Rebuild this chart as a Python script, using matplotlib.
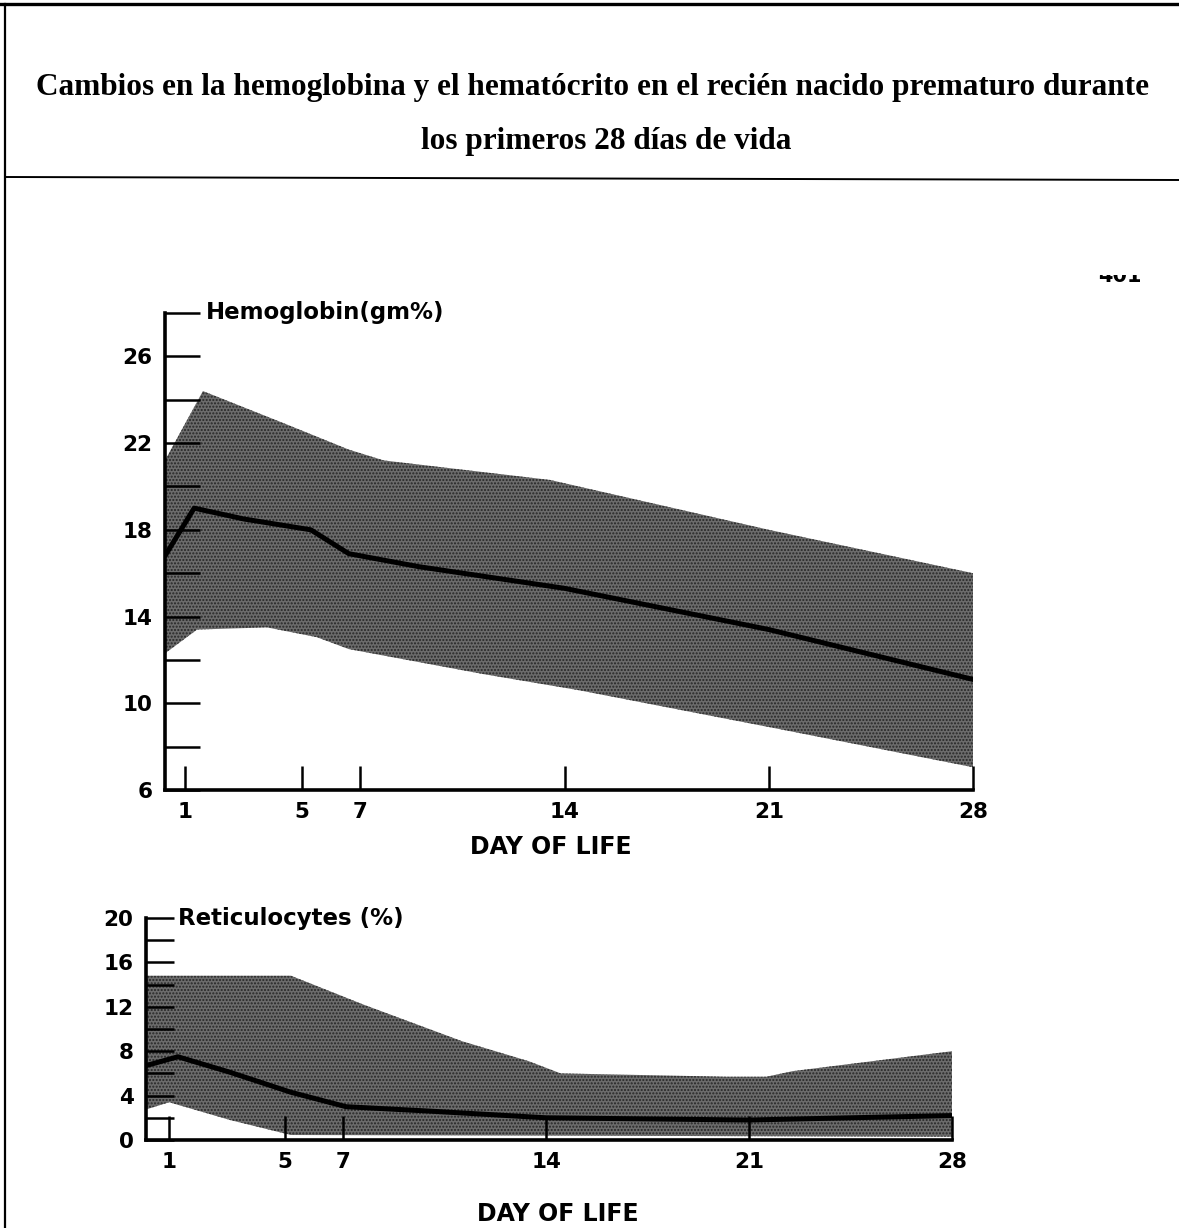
import numpy as np
import matplotlib.pyplot as plt
from matplotlib.lines import Line2D
from matplotlib.transforms import Bbox

W, H = 1179, 1228

# hemoglobin (gm%) -- mean curve and shaded range
hb_days = [0.3, 1.3, 3.0, 5.3, 6.6, 9.0, 14.0, 21.0, 28.0]
hb_mean = [16.8, 19.0, 18.5, 18.0, 16.9, 16.3, 15.3, 13.4, 11.1]
hb_up_days = [0.3, 1.6, 4.4, 6.6, 7.8, 13.5, 21.0, 28.0]
hb_upper = [21.2, 24.4, 22.9, 21.7, 21.2, 20.3, 18.0, 16.0]
hb_lo_days = [0.3, 1.4, 3.8, 5.5, 6.6, 11.2, 14.5, 21.4, 28.0]
hb_lower = [12.3, 13.4, 13.5, 13.05, 12.5, 11.35, 10.6, 8.8, 7.05]

# reticulocytes (%)
ret_days = [0.2, 1.3, 3.1, 5.2, 7.1, 10.0, 14.0, 21.0, 28.0]
ret_mean = [6.7, 7.5, 6.1, 4.3, 3.0, 2.6, 2.0, 1.8, 2.2]
ret_up_days = [0.2, 5.2, 7.7, 11.1, 13.4, 14.5, 20.2, 21.6, 22.5, 28.0]
ret_upper = [14.8, 14.8, 12.2, 8.9, 7.1, 6.0, 5.7, 5.7, 6.2, 8.0]
ret_lo_days = [0.2, 1.0, 3.1, 5.2, 28.0]
ret_lower = [2.75, 3.4, 1.8, 0.45, 0.3]

day_ticks = [1, 5, 7, 14, 21, 28]

SANS = 'DejaVu Sans'

fig = plt.figure(figsize=(W / 100, H / 100), dpi=100)
fig.patch.set_facecolor('white')


def px_axes(left, top, right, bottom):
    return fig.add_axes([left / W, 1 - bottom / H, (right - left) / W, (bottom - top) / H])


def panel(ax, days, mean, up_d, up, lo_d, lo, xlim, ylim, major, minor, name, name_x,
          xlab_xy, ytick_len):
    px = list(up_d) + list(lo_d)[::-1]
    py = list(up) + list(lo)[::-1]
    ax.fill(px, py, facecolor='#6c6c6c', edgecolor='#262626', hatch='.....', linewidth=0, zorder=1)
    ax.plot(days, mean, color='black', lw=3.6, solid_joinstyle='round', solid_capstyle='round', zorder=2)
    ax.set_xlim(*xlim)
    ax.set_ylim(*ylim)
    for s in ['top', 'right']:
        ax.spines[s].set_visible(False)
    for s in ['left', 'bottom']:
        ax.spines[s].set_linewidth(2.6)
    ax.set_yticks(major)
    ax.set_yticks(minor, minor=True)
    ax.set_xticks(day_ticks)
    ax.tick_params(axis='y', which='both', direction='in', length=ytick_len, width=1.8, pad=9,
                   labelsize=15.5)
    ax.tick_params(axis='x', which='both', direction='in', length=17, width=1.8, pad=9,
                   labelsize=15.5)
    for lab in ax.get_xticklabels() + ax.get_yticklabels():
        lab.set_fontfamily(SANS)
        lab.set_fontweight('bold')
    ax.text(name_x, ylim[1], name, ha='left', va='center', fontsize=16.5, fontweight='bold',
            family=SANS, clip_on=False)
    ax.set_xlabel('DAY OF LIFE', fontsize=17, fontweight='bold', family=SANS)
    ax.xaxis.set_label_coords(*xlab_xy)
    ax.patch.set_alpha(0)


ax1 = px_axes(165, 313, 973, 790)
panel(ax1, hb_days, hb_mean, hb_up_days, hb_upper, hb_lo_days, hb_lower,
      (0.3, 28), (6, 28), [6, 10, 14, 18, 22, 26], [8, 12, 16, 20, 24, 28],
      'Hemoglobin(gm%)', 1.7, ((551 - 165) / (973 - 165), -0.095), 25)

ax2 = px_axes(146, 918, 952, 1140)
panel(ax2, ret_days, ret_mean, ret_up_days, ret_upper, ret_lo_days, ret_lower,
      (0.2, 28), (0, 20), [0, 4, 8, 12, 16, 20], [2, 6, 10, 14, 18],
      'Reticulocytes (%)', 1.3, ((558 - 146) / (952 - 146), -0.28), 20)

# page title
fig.text(592 / W, 1 - 87 / H,
         'Cambios en la hemoglobina y el hematócrito en el recién nacido prematuro durante',
         ha='center', va='center', fontsize=22.5, fontweight='bold', family='Liberation Serif')
fig.text(606 / W, 1 - 142 / H, 'los primeros 28 días de vida',
         ha='center', va='center', fontsize=22.5, fontweight='bold', family='Liberation Serif')

# page frame
fig.add_artist(Line2D([0, 1], [1 - 4 / H, 1 - 4 / H], color='black', lw=2.4))
fig.add_artist(Line2D([5 / W, 5 / W], [0, 1 - 4 / H], color='black', lw=1.6))
fig.add_artist(Line2D([5 / W, 1], [1 - 177 / H, 1 - 180 / H], color='black', lw=1.4))

# cut-off page number
pg = fig.text(1120 / W, 1 - 276 / H, '401', ha='center', va='center', fontsize=15,
              fontweight='bold', family=SANS)
pg.set_clip_box(Bbox.from_extents(1050, 0, W, H - 275))
pg.set_clip_on(True)

fig.savefig('out.png', dpi=100, facecolor='white')
